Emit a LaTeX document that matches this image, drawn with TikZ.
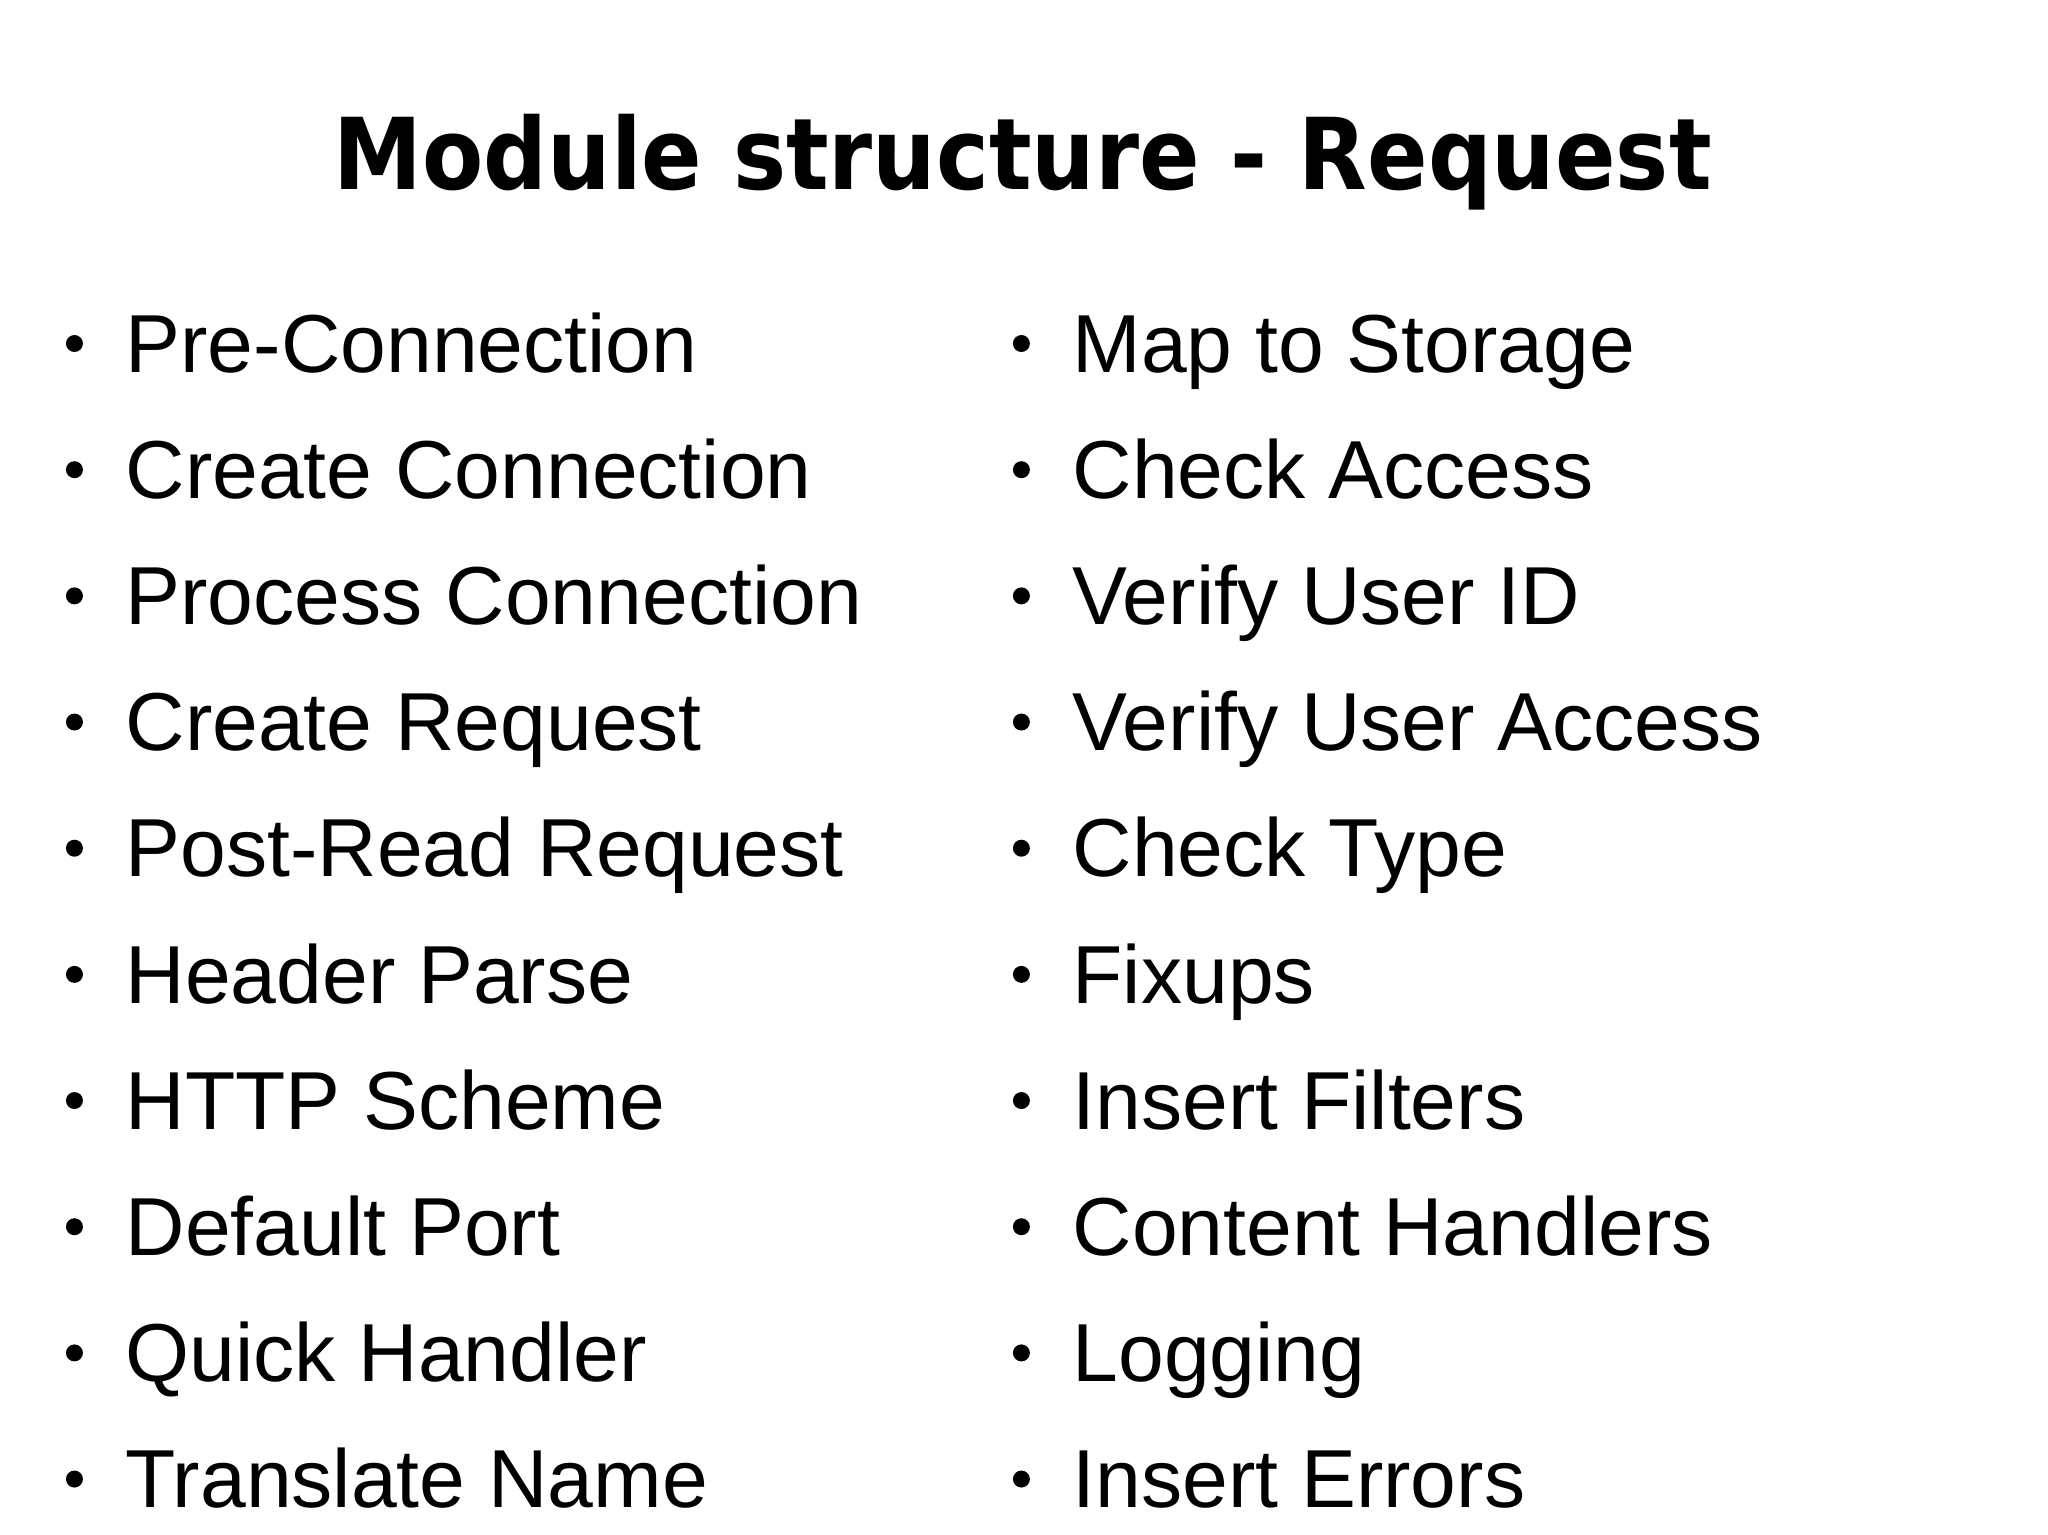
\documentclass[tikz,border=0pt]{standalone}
\usepackage{fontspec}
\setmainfont{Liberation Sans}
\newfontfamily\titlefont{DejaVu Sans Condensed Bold}
\begin{document}
\begin{tikzpicture}[x=1pt,y=-1pt,
  item/.style={anchor=base west,inner sep=0pt,font=\fontsize{63}{70}\selectfont},
  dot/.style={circle,fill=black,inner sep=0pt,minimum size=13pt}]
\useasboundingbox (0,0) rectangle (1568,1175);
\node[anchor=base,inner sep=0pt] (title) at (783,145)
  {\resizebox{1055pt}{!}{\titlefont\fontsize{92}{100}\selectfont Module structure - Request}};
\foreach \t [count=\i] in {Pre-Connection,Create Connection,Process Connection,Create Request,Post-Read Request,Header Parse,HTTP Scheme,Default Port,Quick Handler,Translate Name}{
  \node[item] (l\i) at (96,{285+96.6*(\i-1)}) {\t};
  \node[dot] (lb\i) at (57,{285+96.6*(\i-1)-22}) {};
}
\foreach \t [count=\i] in {Map to Storage,Check Access,Verify User ID,Verify User Access,Check Type,Fixups,Insert Filters,Content Handlers,Logging,Insert Errors}{
  \node[item] (r\i) at (821,{285+96.6*(\i-1)}) {\t};
  \node[dot] (rb\i) at (782,{285+96.6*(\i-1)-22}) {};
}
\end{tikzpicture}
\end{document}
